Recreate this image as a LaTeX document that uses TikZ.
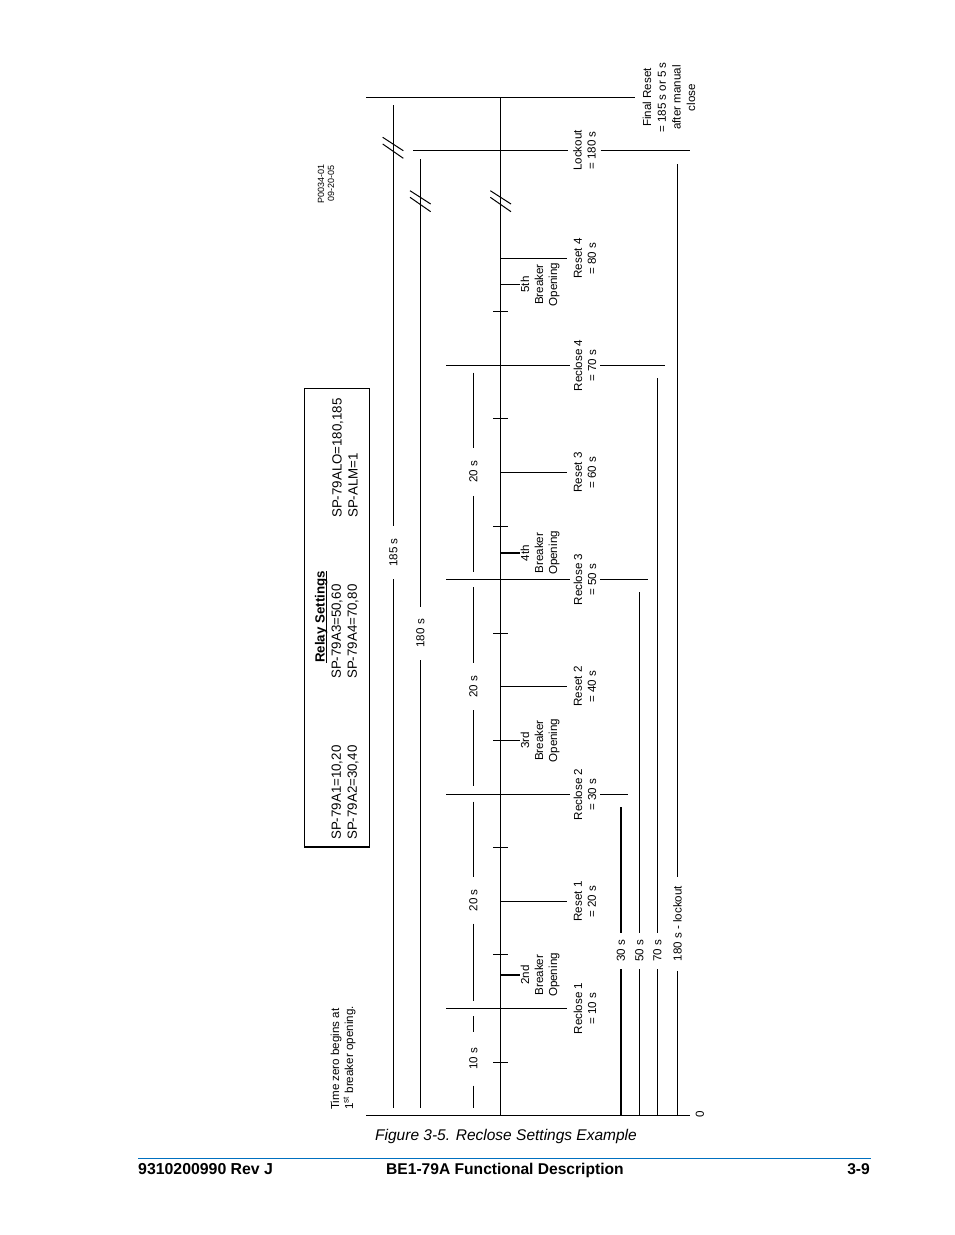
\documentclass[tikz,border=0pt]{standalone}
\usepackage{fontspec}
\setmainfont{Liberation Sans}
\definecolor{footblue}{RGB}{0,112,192}
\tikzset{
  wire/.style={draw=black,line width=1pt,line cap=butt},
  heavy/.style={draw=black,line width=2pt,line cap=butt},
  small/.style={font=\fontsize{11.6}{14}\selectfont},
  gaplabel/.style={small,rotate=90,inner sep=0pt,minimum width=#1,minimum height=9pt},
  stacklabel/.style={small,rotate=90,inner xsep=0pt,inner ysep=0pt,align=center,minimum height=#1},
  boxtext/.style={font=\fontsize{13.3}{16}\selectfont,rotate=90,inner sep=0pt,align=left,anchor=west},
}
\begin{document}
\begin{tikzpicture}[x=1pt,y=-1pt]
\useasboundingbox (0,0) rectangle (954,1235);
% named end points
\coordinate (ax) at (500.5,97.5);
\coordinate (axb) at (500.5,1115.5);
\coordinate (fa) at (366,97.5);
\coordinate (za) at (366,1115.5);
\coordinate (zb) at (689.7,1115.5);
\coordinate (loa) at (413,150.5);
\coordinate (lob) at (690,150.5);
% axes
\draw[wire] (ax) -- (axb);
\draw[wire] (za) -- (zb);
% labels on the horizontal levels
\node[stacklabel=68,font=\fontsize{11.6}{14.7}\selectfont] (final) at (669,97.5) {Final Reset\\= 185 s or 5 s\\after manual\\close};
\node[stacklabel=32] (lockout) at (584.5,150.5) {Lockout\\= 180 s};
\node[stacklabel=30] (rc4) at (585,365.5) {Reclose 4\\= 70 s};
\node[stacklabel=30] (rc3) at (585,579.5) {Reclose 3\\= 50 s};
\node[stacklabel=30] (rc2) at (585,794.5) {Reclose 2\\= 30 s};
\node[stacklabel=36] (rc1) at (585,1008.5) {Reclose 1\\= 10 s};
\node[stacklabel=36] (rs4) at (585,258.5) {Reset 4\\= 80 s};
\node[stacklabel=36] (rs3) at (585,472.5) {Reset 3\\= 60 s};
\node[stacklabel=36] (rs2) at (585,686.5) {Reset 2\\= 40 s};
\node[stacklabel=36] (rs1) at (585,901.5) {Reset 1\\= 20 s};
\node[stacklabel=40] (br5) at (540,284.5) {5th\\Breaker\\Opening};
\node[stacklabel=40] (br4) at (540,553) {4th\\Breaker\\Opening};
\node[stacklabel=40] (br3) at (540,740.5) {3rd\\Breaker\\Opening};
\node[stacklabel=40] (br2) at (540,975) {2nd\\Breaker\\Opening};
% horizontal levels
\draw[wire] (fa) -- (final);
\draw[wire] (loa) -- (lockout) -- (lob);
\coordinate (a4) at (446,365.5); \coordinate (b4) at (665,365.5);
\coordinate (a3) at (446,579.5); \coordinate (b3) at (647.7,579.5);
\coordinate (a2) at (446,794.5); \coordinate (b2) at (627.7,794.5);
\coordinate (a1) at (446,1008.5);
\draw[wire] (a4) -- (rc4) -- (b4);
\draw[wire] (a3) -- (rc3) -- (b3);
\draw[wire] (a2) -- (rc2) -- (b2);
\draw[wire] (a1) -- (rc1);
\draw[wire] (ax |- rs4) -- (rs4);
\draw[wire] (ax |- rs3) -- (rs3);
\draw[wire] (ax |- rs2) -- (rs2);
\draw[wire] (ax |- rs1) -- (rs1);
\draw[wire] (ax |- br5) -- (br5);
\draw[heavy] (ax |- br4) -- (br4);
\draw[wire] (ax |- br3) -- (br3);
\draw[heavy] (ax |- br2) -- (br2);
% ticks
\foreach \y [count=\i] in {311.5,418.5,526.5,633.5,740.5,847.5,954.5,1062.5}{
  \coordinate (ta\i) at (493,\y);
  \coordinate (tb\i) at (508,\y);
  \draw[wire] (ta\i) -- (tb\i);
}
% long duration lines
\node[gaplabel=53] (l185) at (393.5,552.5) {185 s};
\coordinate (v185a) at (393.5,105); \coordinate (v185b) at (393.5,1108);
\draw[wire] (v185a) -- (l185) -- (v185b);
\node[gaplabel=53] (l180) at (420.5,633.3) {180 s};
\coordinate (v180a) at (420.5,159); \coordinate (v180b) at (420.5,1108);
\draw[wire] (v180a) -- (l180) -- (v180b);
% interval line
\node[gaplabel=47.7] (i4) at (473.5,471.8) {20 s};
\node[gaplabel=47] (i3) at (473.5,686.5) {20 s};
\node[gaplabel=46] (i2) at (473.5,900.3) {20 s};
\node[gaplabel=53] (i1) at (473.5,1059) {10 s};
\coordinate (s1) at (473.5,372.7); \coordinate (s2) at (473.5,571.7);
\coordinate (s3) at (473.5,587);   \coordinate (s4) at (473.5,785.7);
\coordinate (s5) at (473.5,801.7); \coordinate (s6) at (473.5,1000.7);
\coordinate (s7) at (473.5,1016);  \coordinate (s8) at (473.5,1107.7);
\draw[wire] (s1) -- (i4) -- (s2);
\draw[wire] (s3) -- (i3) -- (s4);
\draw[wire] (s5) -- (i2) -- (s6);
\draw[wire] (s7) -- (i1) -- (s8);
% lower lines
\node[gaplabel=36] (l30) at (621,951) {30 s};
\node[gaplabel=36] (l50) at (639.5,951) {50 s};
\node[gaplabel=36] (l70) at (657.5,951) {70 s};
\node[gaplabel=94] (llk) at (677.5,923.7) {180 s - lockout};
\coordinate (c30) at (621,807.3);
\coordinate (c50) at (639.5,592);
\coordinate (c70) at (657.5,378.3);
\coordinate (clk) at (677.5,164.3);
\draw[heavy] (c30) -- (l30) -- (za -| l30);
\draw[wire] (c50) -- (l50) -- (za -| l50);
\draw[wire] (c70) -- (l70) -- (za -| l70);
\draw[wire] (clk) -- (llk) -- (za -| llk);
% break marks
\coordinate (k1a) at (382.7,137.3); \coordinate (k1b) at (403.3,150.7);
\coordinate (k2a) at (382.7,144);   \coordinate (k2b) at (403.3,158.3);
\coordinate (k3a) at (410,190.7);   \coordinate (k3b) at (430.7,204);
\coordinate (k4a) at (410,197.3);   \coordinate (k4b) at (430.7,211.7);
\coordinate (k5a) at (490.3,190.7); \coordinate (k5b) at (511,204);
\coordinate (k6a) at (490.3,197.3); \coordinate (k6b) at (511,211.7);
\draw[wire] (k1a) -- (k1b);
\draw[wire] (k2a) -- (k2b);
\draw[wire] (k3a) -- (k3b);
\draw[wire] (k4a) -- (k4b);
\draw[wire] (k5a) -- (k5b);
\draw[wire] (k6a) -- (k6b);
% settings box
\coordinate (bx1) at (304.5,388.5); \coordinate (bx2) at (369.5,847);
\draw[wire] (bx1) rectangle (bx2);
\draw[heavy] (bx1 |- bx2) -- (bx2);
\node[font=\fontsize{13.3}{16}\selectfont\bfseries,rotate=90,inner sep=0pt,anchor=base west] (relay) at (324.5,663) {\underline{\smash{Relay Settings}}};
\node[boxtext] (col1) at (345,840) {SP-79A1=10,20\\SP-79A2=30,40};
\node[boxtext] (col2) at (345,679) {SP-79A3=50,60\\SP-79A4=70,80};
\node[boxtext] (col3) at (345,518) {SP-79ALO=180,185\\SP-ALM=1};
% free texts
\node[small,rotate=90,inner sep=0pt,align=left,anchor=west] (zero) at (343,1110) {Time zero begins at\\1\textsuperscript{st} breaker opening.};
\node[font=\fontsize{9}{10}\selectfont,rotate=90,inner sep=0pt,align=center] (pn) at (326,183.5) {P0034-01\\09-20-05};
\node[small,rotate=90,inner sep=0pt] (zerot) at (700,1114.5) {0};
% caption and footer
\node[font=\fontsize{15.5}{18}\selectfont\itshape,inner sep=0pt,anchor=base west] (cap) at (375,1140) {Figure 3-5. Reclose Settings Example};
\coordinate (fl) at (138,1158.5); \coordinate (fr) at (871,1158.5);
\draw[draw=footblue,line width=1pt] (fl) -- (fr);
\node[font=\fontsize{15.85}{18}\selectfont\bfseries,inner sep=0pt,anchor=base west] (f1) at (138,1174) {9310200990 Rev J};
\node[font=\fontsize{15.6}{18}\selectfont\bfseries,inner sep=0pt,anchor=base west] (f2) at (386,1174) {BE1-79A Functional Description};
\node[font=\fontsize{15.6}{18}\selectfont\bfseries,inner sep=0pt,anchor=base east] (f3) at (870,1174) {3-9};
\end{tikzpicture}
\end{document}
